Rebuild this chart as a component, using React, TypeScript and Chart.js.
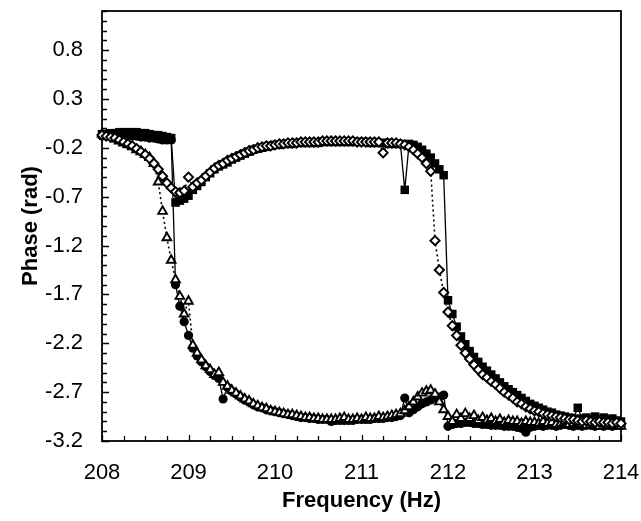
import React, { useEffect, useRef } from 'react';
import { Chart, registerables } from 'chart.js';

Chart.register(...registerables);

// Frequency grid (Hz) shared by all four series
const freqHz = [
  208, 208.05, 208.1, 208.15, 208.2, 208.25, 208.3, 208.35, 208.4, 208.45,
  208.5, 208.55, 208.6, 208.65, 208.7, 208.75, 208.8, 208.85, 208.9, 208.95,
  209, 209.05, 209.1, 209.15, 209.2, 209.25, 209.3, 209.35, 209.4, 209.45,
  209.5, 209.55, 209.6, 209.65, 209.7, 209.75, 209.8, 209.85, 209.9, 209.95,
  210, 210.05, 210.1, 210.15, 210.2, 210.25, 210.3, 210.35, 210.4, 210.45,
  210.5, 210.55, 210.6, 210.65, 210.7, 210.75, 210.8, 210.85, 210.9, 210.95,
  211, 211.05, 211.1, 211.15, 211.2, 211.25, 211.3, 211.35, 211.4, 211.45,
  211.5, 211.55, 211.6, 211.65, 211.7, 211.75, 211.8, 211.85, 211.9, 211.95,
  212, 212.05, 212.1, 212.15, 212.2, 212.25, 212.3, 212.35, 212.4, 212.45,
  212.5, 212.55, 212.6, 212.65, 212.7, 212.75, 212.8, 212.85, 212.9, 212.95,
  213, 213.05, 213.1, 213.15, 213.2, 213.25, 213.3, 213.35, 213.4, 213.45,
  213.5, 213.55, 213.6, 213.65, 213.7, 213.75, 213.8, 213.85, 213.9, 213.95,
  214,
];

// Filled squares, solid line
const phaseSquares = [
  -0.06, -0.06, -0.05, -0.05, -0.04, -0.04, -0.04, -0.04, -0.04, -0.05, -0.05, -0.06, -0.07, -0.07, -0.08, -0.09,
  -0.10, -0.76, -0.74, -0.72, -0.69,
  -0.63, -0.59, -0.55, -0.50, -0.46, -0.42, -0.39, -0.37, -0.35, -0.32, -0.30, -0.28, -0.26, -0.24, -0.22, -0.21, -0.20, -0.19, -0.18, -0.17,
  -0.17, -0.16, -0.16, -0.16, -0.15, -0.15, -0.15, -0.15, -0.15, -0.15, -0.14, -0.14, -0.14, -0.14, -0.14, -0.14, -0.14, -0.14, -0.14, -0.14, -0.14, -0.15, -0.15, -0.15, -0.15, -0.15, -0.16, -0.16, -0.16,
  -0.63, -0.16, -0.17, -0.19, -0.22, -0.26, -0.30, -0.36, -0.42, -0.48, -1.76,
  -1.90, -2.03, -2.13, -2.21, -2.28, -2.34, -2.39, -2.44, -2.48, -2.52,
  -2.56, -2.60, -2.64, -2.67, -2.70, -2.73, -2.76, -2.79, -2.82, -2.84,
  -2.86, -2.88, -2.90, -2.91, -2.93, -2.94, -2.95, -2.96, -2.97, -2.86,
  -2.97, -2.96, -2.98, -2.95, -2.98, -2.96, -2.99, -2.97, -2.99, -3.00,
];

// Open diamonds, dotted line
const phaseDiamonds = [
  -0.07, -0.08, -0.09, -0.10, -0.12, -0.14, -0.16, -0.18, -0.21, -0.24, -0.27, -0.31, -0.36, -0.42, -0.49, -0.56,
  -0.61, -0.65, -0.66, -0.64, -0.50,
  -0.60, -0.56, -0.53, -0.49, -0.45, -0.41, -0.38, -0.36, -0.33, -0.31, -0.29, -0.27, -0.25, -0.23, -0.22, -0.20, -0.19, -0.18, -0.18, -0.17,
  -0.16, -0.16, -0.15, -0.15, -0.15, -0.14, -0.14, -0.14, -0.14, -0.14,
  -0.13, -0.13, -0.13, -0.13, -0.13, -0.13, -0.13, -0.13, -0.14, -0.14,
  -0.14, -0.14, -0.14, -0.14, -0.25, -0.15, -0.15, -0.15, -0.16,
  -0.17, -0.19, -0.22, -0.26, -0.30, -0.36, -0.44, -1.15, -1.45, -1.68, -1.88,
  -2.02, -2.12, -2.22, -2.30, -2.36, -2.42, -2.47, -2.52, -2.55, -2.59,
  -2.62, -2.66, -2.70, -2.73, -2.76, -2.80, -2.82, -2.85, -2.87, -2.89,
  -2.90, -2.92, -2.93, -2.94, -2.95, -2.96, -2.97, -2.98, -2.98, -2.99,
  -3.00, -2.99, -3.00, -3.01, -3.00, -3.01, -3.01, -3.02, -3.01, -3.02,
];

// Filled circles, solid line
const phaseCircles = [
  -0.08, -0.08, -0.07, -0.07, -0.07, -0.07, -0.08, -0.08, -0.08, -0.09, -0.09, -0.10, -0.10, -0.11, -0.12, -0.12,
  -0.12, -1.60, -1.82, -1.98, -2.12,
  -2.25, -2.33, -2.39, -2.44, -2.49, -2.53, -2.56, -2.77, -2.65, -2.69,
  -2.72, -2.75, -2.78, -2.80, -2.83, -2.85, -2.86, -2.88, -2.89, -2.90,
  -2.91, -2.92, -2.93, -2.94, -2.95, -2.96, -2.96, -2.97, -2.97, -2.98,
  -2.98, -2.98, -3.00, -2.99, -2.99, -2.99, -2.99, -2.99, -2.98, -2.98,
  -2.98, -2.98, -2.97, -2.97, -2.97, -2.96, -2.96, -2.95, -2.94,
  -2.76, -2.91, -2.88, -2.85, -2.82, -2.80, -2.78, -2.76, -2.75, -2.73, -3.05,
  -3.03, -3.02, -3.02, -3.01, -3.01, -3.02, -3.02, -3.03, -3.03, -3.04,
  -3.04, -3.04, -3.05, -3.05, -3.05, -3.06, -3.07, -3.11, -3.06, -3.05,
  -3.04, -3.05, -3.04, -3.04, -3.05, -3.04, -3.03, -3.04, -3.05, -3.04,
  -3.05, -3.04, -3.04, -3.05, -3.04, -3.05, -3.04, -3.05, -3.04, -3.04,
];

// Open triangles, dotted line
const phaseTriangles = [
  -0.06, -0.07, -0.09, -0.11, -0.13, -0.15, -0.17, -0.19, -0.22, -0.24, -0.27, -0.30, -0.36, -0.55, -0.85, -1.12,
  -1.35, -1.55, -1.72, -1.90, -1.77,
  -2.22, -2.30, -2.37, -2.43, -2.47, -2.52, -2.50, -2.60, -2.64, -2.68,
  -2.71, -2.74, -2.77, -2.79, -2.82, -2.84, -2.86, -2.87, -2.89, -2.90,
  -2.91, -2.92, -2.93, -2.93, -2.94, -2.95, -2.96, -2.96, -2.97, -2.97,
  -2.98, -2.98, -2.98, -2.98, -2.97, -2.96, -2.98, -2.98, -2.97, -2.98,
  -2.96, -2.97, -2.97, -2.95, -2.96, -2.95, -2.94, -2.93, -2.92,
  -2.89, -2.85, -2.80, -2.75, -2.71, -2.69, -2.68, -2.72, -2.80, -2.88, -2.95,
  -3.00, -2.93, -2.97, -2.92, -2.97, -2.94, -2.99, -2.96, -2.99, -2.97,
  -3.00, -2.98, -3.01, -2.99, -3.00, -3.00, -3.02, -3.00, -3.01, -3.01,
  -3.02, -3.00, -3.02, -3.01, -3.03, -3.02, -3.00, -3.03, -3.02, -3.01,
  -3.03, -3.04, -3.02, -3.03, -3.05, -3.03, -3.04, -3.03, -3.04, -3.05,
];

const xTickValues = [208, 209, 210, 211, 212, 213, 214];
const yTickValues = [-3.2, -2.7, -2.2, -1.7, -1.2, -0.7, -0.2, 0.3, 0.8];
const X_MIN = 208;
const X_MAX = 214;
const Y_MIN = -3.2;
const Y_MAX = 1.2;
const X_MINOR_STEP = 0.25;
const Y_MINOR_STEP = 0.1;

const FONT = "'Liberation Sans', Arial, Helvetica, sans-serif";

const frameTicks = {
  id: 'frameTicks',
  beforeDatasetsDraw(chart: any) {
    const { ctx, chartArea: a, scales } = chart;
    const xs = scales.x;
    const ys = scales.y;
    ctx.save();
    ctx.strokeStyle = '#000';
    ctx.lineWidth = 1.8;
    ctx.strokeRect(a.left, a.top, a.right - a.left, a.bottom - a.top);
    ctx.lineWidth = 1.3;
    ctx.beginPath();
    const nY = Math.round((Y_MAX - Y_MIN) / Y_MINOR_STEP);
    for (let i = 0; i <= nY; i++) {
      const v = Y_MIN + i * Y_MINOR_STEP;
      const py = Math.round(ys.getPixelForValue(v)) + 0.5;
      const len = i % 5 === 0 ? 7 : 5;
      ctx.moveTo(a.left, py);
      ctx.lineTo(a.left + len, py);
    }
    const nX = Math.round((X_MAX - X_MIN) / X_MINOR_STEP);
    for (let i = 0; i <= nX; i++) {
      const v = X_MIN + i * X_MINOR_STEP;
      const px = Math.round(xs.getPixelForValue(v)) + 0.5;
      const len = i % 4 === 0 ? 6 : 5;
      ctx.moveTo(px, a.bottom);
      ctx.lineTo(px, a.bottom - len);
    }
    ctx.stroke();
    ctx.restore();
  },
};

export default function App() {
  const ref = useRef<HTMLCanvasElement>(null);

  useEffect(() => {
    const toXY = (ys: number[]) => ys.map((v, i) => ({ x: freqHz[i], y: v }));
    const common = {
      showLine: true,
      tension: 0,
      clip: 8,
      borderColor: '#000',
      pointBorderColor: '#000',
      pointHoverRadius: 0,
    };
    const chart = new Chart(ref.current as HTMLCanvasElement, {
      type: 'line',
      data: {
        datasets: [
          {
            ...common,
            label: 'diamonds',
            data: toXY(phaseDiamonds),
            borderWidth: 1.6,
            borderDash: [2, 3],
            pointStyle: 'rectRot',
            pointRadius: 4.6,
            pointBackgroundColor: '#fff',
            pointBorderWidth: 1.9,
          },
          {
            ...common,
            label: 'triangles',
            data: toXY(phaseTriangles),
            borderWidth: 1.6,
            borderDash: [2, 3],
            pointStyle: 'triangle',
            pointRadius: 5,
            pointBackgroundColor: '#fff',
            pointBorderWidth: 1.9,
          },
          {
            ...common,
            label: 'squares',
            data: toXY(phaseSquares),
            borderWidth: 1.3,
            pointStyle: 'rect',
            pointRadius: 6,
            pointBackgroundColor: '#000',
            pointBorderWidth: 0,
          },
          {
            ...common,
            label: 'circles',
            data: toXY(phaseCircles),
            borderWidth: 1.3,
            pointStyle: 'circle',
            pointRadius: 4.6,
            pointBackgroundColor: '#000',
            pointBorderWidth: 0,
          },
        ] as any,
      },
      options: {
        animation: false,
        responsive: false,
        events: [],
        layout: { padding: { top: 11, right: 20, left: 0, bottom: 0 } },
        plugins: { legend: { display: false }, tooltip: { enabled: false } },
        scales: {
          x: {
            type: 'linear',
            min: X_MIN,
            max: X_MAX,
            grid: { display: false, drawTicks: false },
            border: { display: false },
            afterBuildTicks: (s: any) => {
              s.ticks = xTickValues.map((v) => ({ value: v }));
            },
            afterFit: (s: any) => {
              s.height = 80;
              s.paddingLeft = 0;
              s.paddingRight = 0;
            },
            ticks: {
              padding: 19,
              color: '#000',
              font: { family: FONT, size: 22 },
              callback: (v: any) => String(v),
              maxRotation: 0,
            },
            title: {
              display: true,
              text: 'Frequency (Hz)',
              color: '#000',
              font: { family: FONT, size: 22, weight: 'bold' },
              padding: { top: 0, bottom: 7 },
            },
          },
          y: {
            type: 'linear',
            min: Y_MIN,
            max: Y_MAX,
            grid: { display: false, drawTicks: false },
            border: { display: false },
            afterBuildTicks: (s: any) => {
              s.ticks = yTickValues.map((v) => ({ value: v }));
            },
            afterFit: (s: any) => {
              s.width = 102;
              s.paddingTop = 0;
              s.paddingBottom = 0;
            },
            ticks: {
              padding: 19,
              color: '#000',
              font: { family: FONT, size: 22 },
              callback: (v: any) => Number(v).toFixed(1),
            },
            title: {
              display: true,
              text: 'Phase (rad)',
              color: '#000',
              font: { family: FONT, size: 22, weight: 'bold' },
              padding: { top: 18, bottom: 0 },
            },
          },
        },
      },
      plugins: [frameTicks],
    });
    return () => chart.destroy();
  }, []);

  return (
    <div style={{ position: 'absolute', left: 0, top: 0, width: 641, height: 521, background: '#fff' }}>
      <canvas ref={ref} width={641} height={521} style={{ display: 'block' }} />
    </div>
  );
}
